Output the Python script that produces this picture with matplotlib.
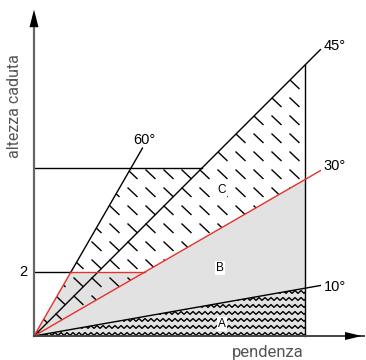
import numpy as np
import matplotlib
matplotlib.use("Agg")
import matplotlib.pyplot as plt
from matplotlib.patches import Polygon

# angles of the slope lines (deg) and heights
angles = [10, 30, 45, 60]
angle_labels = ["10°", "30°", "45°", "60°"]
h_limit = 2.0      # labelled height "2"
h_top = 5.25       # top of area C
x_end = 8.47       # right edge of areas
x_ext = 8.95       # where the angle lines stop (label side)
region_labels = ["A", "B", "C"]

PX = 32.0  # pixels per data unit

plt.rcParams["hatch.color"] = "#5a5a5a"
plt.rcParams["hatch.linewidth"] = 0.9

fig = plt.figure(figsize=(3.66, 3.6), dpi=100)
ax = fig.add_axes([0, 0, 1, 1])
ax.set_xlim(-34 / PX, (366 - 34) / PX)
ax.set_ylim(-(360 - 336) / PX, 336 / PX)
ax.axis("off")

t = {a: np.tan(np.radians(a)) for a in angles}

# polygons
polyA = [(0, 0), (x_end, 0), (x_end, x_end * t[10])]
polyB = [(0, 0), (h_limit / t[60], h_limit), (h_limit / t[30], h_limit),
         (x_end, x_end * t[30]), (x_end, x_end * t[10])]
polyC = [(0, 0), (h_top / t[60], h_top), (h_top / t[45], h_top),
         (x_end, x_end * t[45]), (x_end, x_end * t[30])]

# B (and under A): dotted texture
for poly in (polyB, polyA):
    ax.add_patch(Polygon(poly, closed=True, facecolor="#e2e2e2", edgecolor="none",
                         hatch="......", zorder=1))

# C: short diagonal dashes on a grid
pC = Polygon(polyC, closed=True, facecolor="none", edgecolor="none")
ax.add_patch(pC)
sp = 18 / PX
dx, dy = 9 / PX, -8.5 / PX
for gx in np.arange(-1, x_end + 1, sp):
    for gy in np.arange(-1, 9, sp):
        ln, = ax.plot([gx, gx + dx], [gy, gy + dy], color="black", lw=1.0, zorder=3)
        ln.set_clip_path(pC)

# A: zigzag rows
pA = Polygon(polyA, closed=True, facecolor="none", edgecolor="none")
ax.add_patch(pA)
per = 6 / PX
amp = 2.8 / PX
zx = np.arange(0, x_end + per, per / 2)
for gy in np.arange(0.02, 2, 7 / PX):
    zy = gy + np.where(np.arange(len(zx)) % 2 == 0, 0, amp)
    ln, = ax.plot(zx, zy, color="black", lw=1.0, zorder=3)
    ln.set_clip_path(pA)

# angle lines
ax.plot([0, x_ext], [0, x_ext * t[10]], color="black", lw=1, zorder=4)
ax.plot([0, x_ext], [0, x_ext * t[30]], color="#e8302a", lw=1, zorder=5)
ax.plot([0, x_ext], [0, x_ext * t[45]], color="black", lw=1, zorder=4)
y60 = 5.87
ax.plot([h_limit / t[60], y60 / t[60]], [h_limit, y60], color="black", lw=1, zorder=4)
ax.plot([0, h_limit / t[60]], [0, h_limit], color="#e8302a", lw=1, zorder=5)

# horizontal lines
ax.plot([0, h_top / t[45]], [h_top, h_top], color="black", lw=1, zorder=4)
ax.plot([0, h_limit / t[60]], [h_limit, h_limit], color="black", lw=1, zorder=4)
ax.plot([h_limit / t[60], h_limit / t[30]], [h_limit, h_limit], color="#e8302a", lw=1, zorder=5)
# right edge
ax.plot([x_end, x_end], [0, x_end * t[45]], color="black", lw=1, zorder=4)

# axes with arrows
ax.plot([0, 0], [0, 10.0], color="#666666", lw=1.6, zorder=6)
ax.plot([0, 10.3], [0, 0], color="#444444", lw=1.4, zorder=6)
ax.add_patch(Polygon([(-4.5 / PX, 9.65), (4.5 / PX, 9.65), (0, 10.2)], closed=True,
                     facecolor="black", edgecolor="none", zorder=7))
ax.add_patch(Polygon([(10.25 - 17 / PX, 4 / PX), (10.25 - 17 / PX, -4 / PX), (10.25, 0)],
                     closed=True, facecolor="black", edgecolor="none", zorder=7))

# labels
lab_font = dict(family=["Liberation Sans", "DejaVu Sans"], fontsize=10.5, color="black")
ax.text(x_ext + 0.1, x_ext * t[45] + 0.12, angle_labels[2], ha="left", va="center", **lab_font)
ax.text(x_ext + 0.1, x_ext * t[30] + 0.15, angle_labels[1], ha="left", va="center", **lab_font)
ax.text(x_ext + 0.1, x_ext * t[10] - 0.05, angle_labels[0], ha="left", va="center", **lab_font)
ax.text(y60 / t[60] + 0.05, y60 + 0.27, angle_labels[3], ha="center", va="center", **lab_font)
ax.text(-0.22, h_limit, "2", ha="right", va="center", **lab_font)

box = dict(facecolor="white", edgecolor="none", pad=0.8)
for (lx, ly), lab in zip([(5.87, 0.38), (5.82, 2.12), (5.87, 4.56)], region_labels):
    ax.text(lx, ly, lab, ha="center", va="center", fontsize=8.5,
            family="Liberation Sans", bbox=box, zorder=8)

ax.text(7.31, -0.5, "pendenza", ha="center", va="center", fontsize=12,
        family="Roboto", color="#555555")
ax.text(-0.62, 7.2, "altezza caduta", ha="center", va="center", rotation=90,
        fontsize=11.5, family="Roboto", color="#555555")

fig.savefig("out.png", dpi=100)
